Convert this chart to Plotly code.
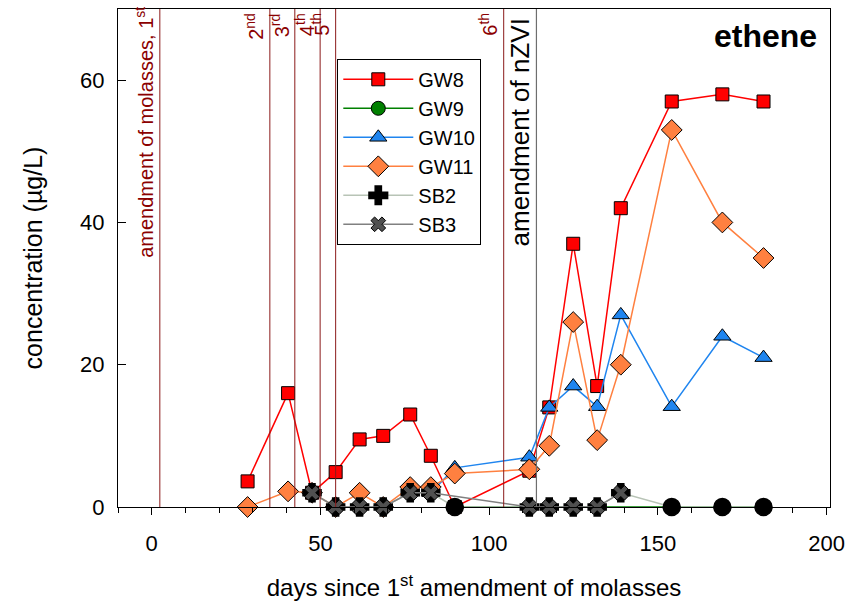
import plotly.graph_objects as go

# ---------------- data ----------------
days_gw = [28.4, 40.4, 47.5, 54.5, 61.6, 68.6, 76.6, 82.7, 89.8, 111.9, 117.8, 124.9, 132.0, 139.0, 154.1, 169.1, 181.3]
gw8 = [3.6, 16.0, 2.0, 4.9, 9.5, 10.0, 13.0, 7.2, 0.0, 5.1, 14.0, 37.0, 17.0, 42.0, 57.0, 58.0, 57.0]
gw11 = [0.0, 2.2, 2.0, 0.0, 2.0, 0.0, 2.8, 2.8, 4.7, 5.3, 8.6, 26.0, 9.4, 20.0, 53.0, 40.0, 35.0]

days_gw10 = [82.7, 89.8, 111.9, 117.8, 124.9, 132.0, 139.0, 154.1, 169.1, 181.3]
gw10 = [2.0, 5.5, 7.0, 14.0, 17.0, 14.1, 27.0, 14.1, 24.0, 21.0]

days_gw9 = [89.8, 154.1, 169.1, 181.3]
gw9 = [0.0, 0.0, 0.0, 0.0]

days_sb2 = [47.5, 54.5, 61.6, 68.6, 76.6, 82.7, 89.8, 111.9, 117.8, 124.9, 132.0, 139.0, 154.1, 169.1, 181.3]
sb2 = [2.0, 0.0, 0.0, 0.0, 2.0, 2.0, 0.0, 0.0, 0.0, 0.0, 0.0, 2.0, 0.0, 0.0, 0.0]
sb2_symbols = ["cross", "cross", "cross", "cross", "cross", "cross", "circle",
               "cross", "cross", "cross", "cross", "cross", "circle", "circle", "circle"]
sb2_sizes = [15 if s == "cross" else 17 for s in sb2_symbols]

days_sb3 = [47.5, 54.5, 61.6, 68.6, 76.6, 82.7, 111.9, 117.8, 124.9, 132.0, 139.0]
sb3 = [2.0, 0.0, 0.0, 0.0, 2.0, 2.0, 0.0, 0.0, 0.0, 0.0, 2.0]

molasses_days = [2.4, 35.0, 42.4, 49.9, 54.5, 104.3]
molasses_labels = ["amendment of molasses, 1<sup>st</sup>", "2<sup>nd</sup>", "3<sup>rd</sup>",
                   "4<sup>th</sup>", "5<sup>th</sup>", "6<sup>th</sup>"]
nzvi_day = 114.0

x_ticks = [0, 50, 100, 150, 200]
y_ticks = [0, 20, 40, 60]

FONT = "Liberation Sans, Arial, sans-serif"

fig = go.Figure()

def add(name, x, y, color, fill, symbol, size, lw=1.5, mline=1, mlinecolor="black"):
    fig.add_trace(go.Scatter(
        x=x, y=y, name=name, mode="lines+markers",
        line=dict(color=color, width=lw),
        marker=dict(symbol=symbol, size=size, color=fill, opacity=1,
                    line=dict(color=mlinecolor, width=mline)),
        cliponaxis=False,
    ))

add("GW8", days_gw, gw8, "#ff0000", "#ff0000", "square", 13)
add("GW9", days_gw9, gw9, "#008000", "#008000", "circle", 14)
add("GW10", days_gw10, gw10, "#1f85ef", "#1f85ef", "triangle-up", 15)
add("GW11", days_gw, gw11, "#ff8040", "#ff8040", "diamond", 16)
add("SB2", days_sb2, sb2, "#b8c4b6", "#000000", sb2_symbols, sb2_sizes, mline=1.5)
add("SB3", days_sb3, sb3, "#808080", "#505050", "x", 13, mline=1)

shapes = []
for d in molasses_days:
    shapes.append(dict(type="line", xref="x", yref="paper", x0=d, x1=d, y0=0, y1=1,
                       line=dict(color="#8b1a1a", width=1)))
shapes.append(dict(type="line", xref="x", yref="paper", x0=nzvi_day, x1=nzvi_day, y0=0, y1=1,
                   line=dict(color="#6e6e6e", width=1.2)))

annotations = []
for i, (d, lab) in enumerate(zip(molasses_days, molasses_labels)):
    annotations.append(dict(x=d, y=1, xref="x", yref="paper", text=lab, textangle=-90,
                            xanchor="right", yanchor="top", showarrow=False,
                            xshift=-1, yshift=(4 if i == 0 else -2),
                            font=dict(family=FONT, size=20, color="#8b0000")))
annotations.append(dict(x=nzvi_day, y=1, xref="x", yref="paper", text="amendment of nZVI",
                        textangle=-90, xanchor="right", yanchor="top", showarrow=False,
                        xshift=1, yshift=-7, font=dict(family=FONT, size=26, color="black")))
annotations.append(dict(x=0.984, y=0.985, xref="paper", yref="paper", text="<b>ethene</b>",
                        xanchor="right", yanchor="top", showarrow=False,
                        font=dict(family=FONT, size=32, color="black")))

fig.update_layout(
    width=854, height=601,
    margin=dict(l=118, r=24, t=9, b=94),
    paper_bgcolor="white", plot_bgcolor="white",
    font=dict(family=FONT, size=22, color="black"),
    showlegend=True,
    legend=dict(x=0.308, y=0.9, xanchor="left", yanchor="top",
                bordercolor="black", borderwidth=1, bgcolor="white",
                font=dict(family=FONT, size=20, color="black"),
                itemwidth=70, tracegroupgap=0),
    shapes=shapes, annotations=annotations,
)
fig.update_xaxes(range=[-10, 201], tickvals=x_ticks, ticks="outside", ticklen=7,
                 tickcolor="black", showline=True, linecolor="black", linewidth=1,
                 mirror=True, showgrid=False, zeroline=False, automargin=False,
                 minor=dict(dtick=10, tick0=0, ticks="outside", ticklen=5, tickcolor="black"),
                 tickfont=dict(family=FONT, size=22), ticklabelstandoff=10,
                 title=dict(text="days since 1<sup>st</sup> amendment of molasses",
                            font=dict(family=FONT, size=24), standoff=24))
fig.update_yaxes(range=[0, 70], tickvals=y_ticks, ticks="inside", ticklen=8,
                 tickcolor="black", showline=True, linecolor="black", linewidth=1,
                 mirror=True, showgrid=False, zeroline=False, automargin=False,
                 tickfont=dict(family=FONT, size=22), ticklabelstandoff=8,
                 title=dict(text="concentration (µg/L)", font=dict(family=FONT, size=25),
                            standoff=30))

fig.write_html("out.html")
